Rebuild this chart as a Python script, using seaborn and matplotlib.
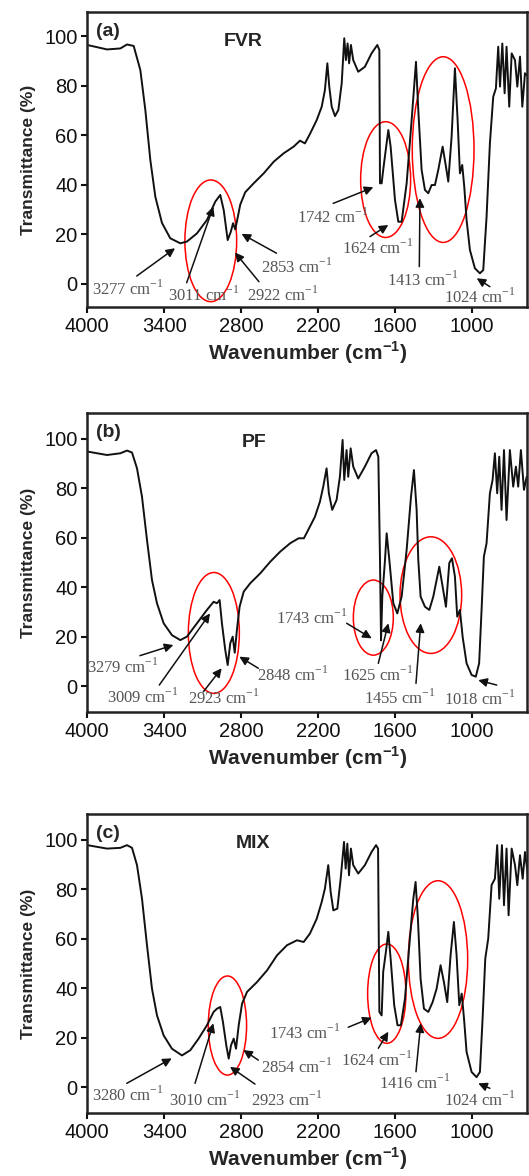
import numpy as np
import pandas as pd
import matplotlib
matplotlib.use("Agg")
import matplotlib.pyplot as plt
from matplotlib.patches import Ellipse
import seaborn as sns

# ---- Dados (número de onda em cm-1, transmitância em %) ----
fvr_wn = [4000, 3846, 3742, 3690, 3638, 3586, 3547, 3508, 3469, 3417, 3352, 3274, 3222,
          3144, 3066, 3001, 2962, 2935, 2904, 2880, 2862, 2845, 2825, 2806, 2767, 2701,
          2623, 2545, 2467, 2389, 2340, 2301, 2262, 2209, 2170, 2145, 2126, 2111, 2092,
          2066, 2040, 2014, 1994, 1981, 1968, 1956, 1942, 1924, 1885, 1833, 1781, 1736,
          1720, 1715, 1702, 1690, 1650, 1632, 1598, 1572, 1546, 1507, 1468, 1434, 1416,
          1390, 1364, 1338, 1312, 1286, 1260, 1226, 1200, 1182, 1156, 1130, 1109, 1091,
          1073, 1057, 1039, 1013, 974, 935, 909, 883, 857, 831, 810, 792, 778, 760, 742,
          727, 706, 687, 661, 643, 622, 604, 583, 557]
fvr_t = [96.4, 94.6, 95.0, 96.6, 96.0, 86.3, 70.2, 50.0, 35.2, 24.6, 18.4, 16.4, 17.1,
         20.4, 25.8, 33.2, 35.9, 29.8, 17.7, 21.0, 24.5, 22.0, 27.0, 32.0, 37.0, 40.6,
         44.6, 49.3, 52.7, 55.4, 57.8, 56.7, 60.5, 66.1, 71.5, 78.2, 89.0, 79.6, 71.5,
         67.7, 70.2, 80.9, 99.1, 90.3, 97.0, 89.0, 96.4, 90.3, 85.6, 87.6, 93.0, 96.4,
         94.4, 40.6, 40.6, 46.0, 62.1, 55.4, 33.9, 25.1, 25.1, 40.6, 66.1, 89.6, 70.2,
         46.0, 37.9, 36.6, 39.9, 39.9, 46.0, 55.4, 47.3, 41.3, 59.4, 87.0, 66.1, 44.6,
         48.0, 39.2, 25.8, 13.7, 6.3, 4.3, 5.6, 27.1, 56.7, 75.5, 78.9, 95.7, 79.6, 97.0,
         76.9, 95.7, 71.5, 93.0, 90.3, 79.6, 91.7, 71.5, 85.0, 83.6]

pf_wn = [4000, 3846, 3742, 3690, 3651, 3612, 3573, 3534, 3495, 3456, 3404, 3339, 3274,
         3222, 3144, 3066, 3014, 2988, 2967, 2949, 2923, 2904, 2884, 2865, 2849, 2832,
         2811, 2779, 2728, 2650, 2572, 2494, 2416, 2350, 2309, 2275, 2223, 2184, 2158,
         2132, 2114, 2088, 2054, 2028, 2007, 1994, 1976, 1963, 1944, 1924, 1885, 1833,
         1781, 1746, 1728, 1715, 1707, 1697, 1676, 1663, 1642, 1611, 1580, 1546, 1507,
         1473, 1450, 1429, 1416, 1398, 1364, 1330, 1299, 1273, 1252, 1226, 1200, 1174,
         1153, 1130, 1112, 1091, 1070, 1039, 1000, 967, 941, 922, 904, 883, 857, 836,
         818, 800, 784, 766, 747, 727, 701, 675, 654, 636, 615, 591, 570]
pf_t = [94.9, 93.5, 94.2, 95.3, 94.5, 88.1, 76.6, 59.1, 42.9, 33.5, 25.4, 20.6, 18.6,
        20.0, 25.4, 30.8, 34.1, 33.5, 34.8, 25.4, 14.6, 8.5, 17.3, 20.0, 13.5, 22.7,
        32.1, 38.2, 41.6, 45.6, 50.3, 54.4, 57.8, 59.8, 59.8, 63.2, 68.5, 74.6, 80.7,
        88.1, 78.0, 71.3, 75.3, 84.7, 99.6, 83.4, 95.5, 84.7, 96.2, 88.8, 84.0, 88.8,
        94.2, 95.5, 92.8, 51.0, 18.5, 36.2, 51.0, 61.8, 51.0, 33.5, 29.4, 36.2, 55.1,
        76.6, 87.4, 71.3, 51.0, 36.2, 32.1, 30.8, 36.2, 42.9, 48.3, 40.2, 32.1, 49.8,
        51.7, 44.3, 28.1, 30.8, 20.0, 9.2, 4.5, 3.8, 9.2, 30.8, 52.4, 57.8, 78.0, 83.4,
        94.2, 78.0, 92.8, 71.3, 95.5, 67.2, 95.5, 80.7, 88.8, 80.7, 95.5, 79.4, 84.7]

mix_wn = [4000, 3846, 3742, 3690, 3651, 3612, 3573, 3534, 3495, 3456, 3404, 3339, 3261,
          3196, 3131, 3066, 3014, 2988, 2962, 2941, 2915, 2896, 2878, 2857, 2839, 2818,
          2792, 2753, 2675, 2597, 2519, 2441, 2363, 2311, 2262, 2209, 2170, 2145, 2119,
          2100, 2079, 2048, 2022, 1996, 1983, 1970, 1957, 1942, 1924, 1885, 1833, 1781,
          1746, 1730, 1720, 1702, 1690, 1669, 1650, 1632, 1604, 1578, 1552, 1520, 1486,
          1455, 1437, 1419, 1398, 1372, 1338, 1304, 1273, 1242, 1216, 1190, 1164, 1138,
          1117, 1096, 1077, 1059, 1039, 1000, 961, 935, 914, 893, 870, 844, 818, 800,
          784, 763, 747, 727, 711, 687, 661, 643, 622, 601, 583, 557]
mix_t = [97.9, 96.5, 96.8, 97.9, 96.8, 89.8, 76.2, 57.4, 39.8, 29.0, 20.9, 15.5, 12.8,
         14.9, 19.6, 25.0, 30.4, 31.7, 32.4, 26.3, 16.9, 11.5, 16.9, 19.6, 15.5, 25.0,
         33.7, 38.5, 42.5, 47.2, 53.3, 57.4, 59.4, 58.7, 62.1, 68.1, 74.9, 80.3, 89.8,
         78.9, 71.5, 72.2, 84.3, 99.2, 88.4, 98.5, 85.7, 96.5, 89.8, 86.4, 89.8, 95.1,
         97.9, 96.5, 30.4, 29.0, 46.6, 54.7, 62.8, 52.0, 33.1, 25.0, 25.0, 35.8, 57.4,
         76.2, 83.0, 68.1, 43.8, 31.7, 30.4, 34.4, 39.8, 49.3, 42.5, 34.4, 53.3, 66.8,
         53.3, 33.1, 37.8, 27.7, 14.2, 6.1, 4.0, 6.1, 27.7, 52.0, 60.1, 81.7, 84.3, 97.9,
         76.2, 97.9, 73.6, 96.5, 69.5, 96.5, 89.8, 81.7, 93.8, 84.3, 95.1, 84.3]

# rótulos dos picos
fvr_picos = ["3277", "3011", "2922", "2853", "1742", "1624", "1413", "1024"]
pf_picos = ["3279", "3009", "2923", "2848", "1743", "1625", "1455", "1018"]
mix_picos = ["3280", "3010", "2923", "2854", "1743", "1624", "1416", "1024"]

# ---- Posições (texto, início da seta, ponta da seta) em coordenadas de dados ----
fvr_pos = [((3680, -2.1), (3614, 3.2), (3315, 14.4)),
           ((3094, -4.4), (3224, 0.5), (3016, 31.2)),
           ((2470, -4.4), (2660, 0.9), (2847, 12.7)),
           ((2365, 7.0), (2523, 12.4), (2796, 20.2)),
           ((2080, 27.1), (2080, 32.5), (1767, 39.0)),
           ((1728, 14.4), (1793, 19.1), (1650, 23.8)),
           ((1377, 1.6), (1408, 7.0), (1403, 34.6)),
           ((935, -5.1), (857, -1.1), (960, 2.3))]
pf_pos = [((3719, 7.8), (3589, 12.3), (3328, 16.6)),
          ((3563, -4.3), (3438, 0.4), (3042, 29.4)),
          ((2938, -5.0), (3094, -2.3), (2951, 7.2)),
          ((2392, 4.5), (2665, 7.2), (2813, 11.9)),
          ((2248, 27.4), (1975, 25.4), (1780, 19.3)),
          ((1728, 4.5), (1728, 9.2), (1650, 25.4)),
          ((1559, -5.0), (1434, 1.1), (1397, 25.4)),
          ((935, -5.4), (804, 0.4), (948, 2.4))]
mix_pos = [((3680, -3.2), (3692, 1.5), (3341, 11.6)),
           ((3081, -5.3), (3159, 1.5), (3016, 25.8)),
           ((2443, -5.3), (2691, 1.2), (2886, 8.2)),
           ((2365, 8.2), (2665, 10.9), (2782, 15.0)),
           ((2301, 22.0), (1963, 24.2), (1780, 28.1)),
           ((1741, 10.9), (1728, 15.7), (1650, 22.4)),
           ((1442, 1.5), (1434, 6.2), (1397, 25.8)),
           ((935, -5.3), (857, -0.5), (948, 1.5))]

# elipses vermelhas: (centro x, centro y, largura, altura)
fvr_elipses = [(3036, 17.4, 404, 49.1), (1671, 42.1, 390, 46.7), (1222, 54.2, 482, 74.9)]
pf_elipses = [(3012, 21.5, 398, 48.9), (1767, 27.7, 312, 30.4), (1318, 36.8, 481, 47.2)]
mix_elipses = [(2906, 24.9, 299, 40.1), (1662, 37.8, 299, 40.2), (1262, 51.6, 463, 63.8)]


def painel(ax, wn, t, letra, nome, nome_x, picos, pos, elipses, ylim):
    df = pd.DataFrame({"wn": wn, "t": t})
    sns.lineplot(data=df, x="wn", y="t", ax=ax, color="#111111", linewidth=1.4,
                 estimator=None, sort=False)

    ax.set_xlim(4000, 565)
    ax.set_ylim(*ylim)
    ax.set_xticks([4000, 3400, 2800, 2200, 1600, 1000])
    ax.set_yticks([0, 20, 40, 60, 80, 100])
    ax.tick_params(direction="out", length=4, width=1.5, labelsize=14.5,
                   colors="#111111", pad=3)
    for s in ax.spines.values():
        s.set_visible(True)
        s.set_linewidth(1.8)
        s.set_color("#222222")

    ax.set_xlabel("Wavenumber (cm$^{\\mathregular{-1}}$)", fontsize=15,
                  fontweight="bold", labelpad=3)
    ax.set_ylabel("Transmittance (%)", fontsize=12.5, fontweight="bold", labelpad=6)

    # letra do painel e nome da amostra
    ax.text(3836, ylim[1] - 8, letra, fontsize=14, fontweight="bold",
            ha="center", va="center")
    ax.text(nome_x, ylim[1] - 12, nome, fontsize=14, fontweight="bold",
            ha="center", va="center")

    # elipses
    for cx, cy, w, h in elipses:
        ax.add_patch(Ellipse((cx, cy), w, h, fill=False, edgecolor="red", lw=1.1))

    # setas + textos dos picos
    for rot, (txt, cauda, ponta) in zip(picos, pos):
        ax.annotate("", xy=ponta, xytext=cauda,
                    arrowprops=dict(arrowstyle="-|>", color="#111111", lw=1.1,
                                    mutation_scale=13, shrinkA=0, shrinkB=0))
        ax.text(txt[0], txt[1], rot + " cm$^{\\mathregular{-1}}$",
                fontsize=12, color="#555555", ha="center", va="center",
                family=["Liberation Serif", "DejaVu Serif"])


sns.set_theme(style="ticks")
plt.rcParams["font.family"] = ["Liberation Sans", "DejaVu Sans"]
plt.rcParams["axes.facecolor"] = "white"

fig = plt.figure(figsize=(5.29, 11.76), dpi=100)
esq, larg = 87.3 / 529, (527.3 - 87.3) / 529
ax_a = fig.add_axes([esq, (1176 - 307) / 1176, larg, 295 / 1176])
ax_b = fig.add_axes([esq, (1176 - 712) / 1176, larg, 299 / 1176])
ax_c = fig.add_axes([esq, (1176 - 1113) / 1176, larg, 299 / 1176])

painel(ax_a, fvr_wn, fvr_t, "(a)", "FVR", 2782, fvr_picos, fvr_pos, fvr_elipses, (-9.3, 109.7))
painel(ax_b, pf_wn, pf_t, "(b)", "PF", 2699, pf_picos, pf_pos, pf_elipses, (-10.5, 110.5))
painel(ax_c, mix_wn, mix_t, "(c)", "MIX", 2704, mix_picos, mix_pos, mix_elipses, (-10.5, 110.5))

fig.savefig("out.png", dpi=100)
